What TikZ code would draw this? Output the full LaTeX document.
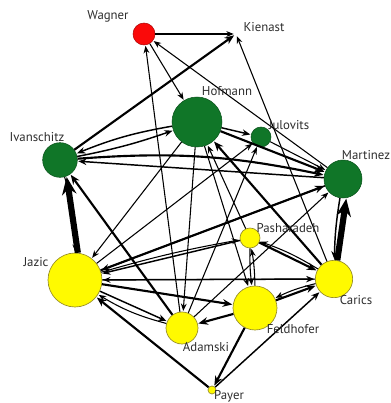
\documentclass[tikz,border=0pt]{standalone}
\usepackage{fontspec}
\setmainfont{PT Sans}
\usetikzlibrary{arrows.meta}
\definecolor{ngreen}{RGB}{16,118,40}
\definecolor{nred}{RGB}{250,10,10}
\definecolor{nyellow}{RGB}{255,250,0}
\definecolor{yedge}{RGB}{150,140,40}
\definecolor{lbl}{RGB}{45,45,45}
\begin{document}
\begin{tikzpicture}[x=0.75pt,y=-0.75pt,
  vx/.style={circle,inner sep=0pt,draw=#1!70!black,line width=0.4pt},
  gv/.style={vx=ngreen,fill=ngreen},
  rv/.style={vx=nred,fill=nred},
  yv/.style={circle,inner sep=0pt,draw=yedge,fill=nyellow,line width=0.5pt},
  lab/.style={font=\fontsize{9.6}{11}\selectfont,text=lbl,inner sep=0pt},
  e/.style={-{Stealth[length=4pt 2.0,width=3pt 1.7]},line width=#1,shorten >=0.5pt},
  thin1/.style={e=0.8pt},
  norm1/.style={e=1.1pt},
  thick1/.style={e=1.6pt},
  huge1/.style={e=4.6pt}]
\useasboundingbox (0,0) rectangle (390,403);
% nodes
\node[rv,minimum size=16.5pt] (wag) at (144,34) {};
\node[circle,inner sep=0pt,minimum size=2pt] (kie) at (236,34) {};
\node[gv,minimum size=37.5pt] (hof) at (197,122) {};
\node[gv,minimum size=15pt] (jul) at (261,137) {};
\node[gv,minimum size=26pt] (iva) at (60,160) {};
\node[gv,minimum size=28.5pt] (mar) at (343,179) {};
\node[yv,minimum size=40.5pt] (jaz) at (75,280) {};
\node[yv,minimum size=15pt] (pas) at (250,238) {};
\node[yv,minimum size=28pt] (car) at (334,279) {};
\node[yv,minimum size=33pt] (fel) at (255,308) {};
\node[yv,minimum size=24pt] (ada) at (182,328) {};
\node[yv,minimum size=6pt] (pay) at (212,390) {};
% edges
\draw[thin1] (wag) -- (kie);
\draw[thin1] (wag) -- (hof);
\draw[thin1] (ada) -- (wag);
\draw[thin1] (mar) -- (wag);
\draw[thick1] (iva) -- (kie);
\draw[thin1] (car) -- (kie);
\draw[norm1] (hof) -- (jul);
\draw[thick1] (hof) -- (mar);
\draw[norm1] (hof) to[bend right=6] (iva);
\draw[norm1] (iva) to[bend right=4] (hof);
\draw[thick1] (car) -- (hof);
\draw[thin1] (pas) -- (hof);
\draw[thin1] (hof) -- (jaz);
\draw[thin1] (hof) -- (fel);
\draw[thin1] (hof) -- (ada);
\draw[thin1] (jul) -- (mar);
\draw[thin1] (jaz) -- (jul);
\draw[thin1] (ada) -- (jul);
\draw[norm1] (mar) -- (iva);
\draw[thick1] (iva) to[bend left=8] (mar);
\draw[thick1] (jaz) -- (mar);
\draw[norm1] (mar) -- (jaz);
\draw[huge1] (car.80) -- (mar.-80);
\draw[norm1] (mar) to[bend right=4] (car);
\draw[thin1] (ada) -- (mar);
\draw[huge1] (jaz.84) -- (iva.-68);
\draw[thin1] (iva) to[bend left=8] (jaz);
\draw[thick1] (ada) -- (iva);
\draw[norm1] (jaz) -- (ada);
\draw[thin1] (ada) to[bend left=8] (jaz);
\draw[thick1] (pay) -- (jaz);
\draw[thick1] (jaz) -- (fel);
\draw[thin1] (car) -- (jaz);
\draw[norm1] (pas) -- (jaz);
\draw[thin1] (jaz) to[bend left=3] (pas);
\draw[norm1] (jaz) -- (car);
\draw[thick1] (pas) -- (car);
\draw[thin1] (car) to[bend right=6] (pas);
\draw[thin1] (pas) to[bend right=4] (fel);
\draw[thin1] (fel) to[bend right=4] (pas);
\draw[thick1] (fel) -- (car);
\draw[thin1] (car) to[bend right=6] (fel);
\draw[thick1] (fel) -- (pay);
\draw[norm1] (pay) -- (car);
\draw[thick1] (fel) -- (ada);
% labels
\node[lab] (lwag) at (108,16) {Wagner};
\node[lab] (lkie) at (264,27) {Kienast};
\node[lab] (lhof) at (227,91) {Hofmann};
\node[lab] (ljul) at (289,125) {Julovits};
\node[lab] (liva) at (37,137) {Ivanschitz};
\node[lab] (lmar) at (366,155) {Martinez};
\node[lab] (ljaz) at (36,262) {Jazic};
\node[lab] (lpas) at (288,228) {Pasharadeh};
\node[lab] (lcar) at (356,300) {Carics};
\node[lab] (lfel) at (293,329) {Feldhofer};
\node[lab] (lada) at (206,347) {Adamski};
\node[lab] (lpay) at (229,396) {Payer};
\end{tikzpicture}
\end{document}
